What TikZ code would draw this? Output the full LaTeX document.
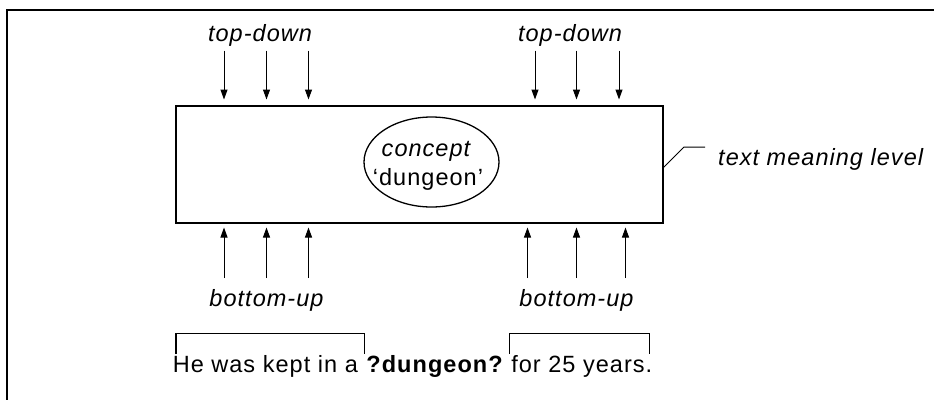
\documentclass[tikz,border=0pt]{standalone}
\usepackage{fontspec}
\setmainfont{Liberation Sans}[LetterSpace=4.4]
\usetikzlibrary{arrows.meta,shapes.geometric}
\begin{document}
\begin{tikzpicture}[x=1pt,y=-1pt,
  txt/.style={font=\fontsize{23.5}{27}\selectfont, inner sep=0pt, anchor=base},
  itxt/.style={txt, font=\fontsize{23.5}{27}\selectfont\itshape},
  arr/.style={line width=1pt, -{Triangle[length=10pt,width=7pt]}},
  bracket/.style={line width=1.2pt},
  frame/.style={line width=1.6pt}]
\useasboundingbox (0,0) rectangle (934,399);
\begin{scope}
\clip (0,0) rectangle (934,399);
\draw[frame] (7,420) -- (7,10) -- (950,10);
\end{scope}
% main box and concept
\node[draw, line width=2pt, minimum width=487.5pt, minimum height=117pt, inner sep=0pt] (level) at (419.25,164) {};
\node[ellipse, draw, line width=1.3pt, minimum width=135pt, minimum height=90pt, inner sep=0pt] (concept) at (431.5,162) {};
\node[itxt] (cpt) at (426,156.7) {concept};
\node[txt] (dng) at (428,185) {‘dungeon’};
% labels
\node[itxt] (td1) at (260,41.5) {top-down};
\node[itxt] (td2) at (570,41.5) {top-down};
\node[itxt] (bu1) at (266.5,306) {bottom-up};
\node[itxt] (bu2) at (576.5,306) {bottom-up};
\node[itxt, anchor=base west] (tml) at (718,165) {text meaning level};
% top-down arrows
\foreach \i/\x in {1/224,2/266.5,3/308.5,4/535,5/576.5,6/619}{
  \coordinate (ts\i) at (\x,50.5);
  \coordinate (te\i) at (\x,99.5);
  \draw[arr] (ts\i) -- (te\i);
}
% bottom-up arrows
\foreach \i/\x in {1/224,2/266.5,3/308.5,4/527.5,5/576.5,6/625.5}{
  \coordinate (bs\i) at (\x,278);
  \coordinate (be\i) at (\x,227.5);
  \draw[arr] (bs\i) -- (be\i);
}
% leader line
\coordinate (l0) at (663,168);
\coordinate (l1) at (684,147);
\coordinate (l2) at (705,147);
\draw[line width=1pt] (l0) -- (l1) -- (l2);
% sentence and brackets
\node[txt] (sent) at (412.5,372) {He was kept in a \textbf{?dungeon?}\ for 25 years.};
\draw[bracket] (176,354) -- (176,333.3) -- (364.5,333.3) -- (364.5,354);
\draw[bracket] (509.6,354) -- (509.6,333.3) -- (649.6,333.3) -- (649.6,354);
\end{tikzpicture}
\end{document}
